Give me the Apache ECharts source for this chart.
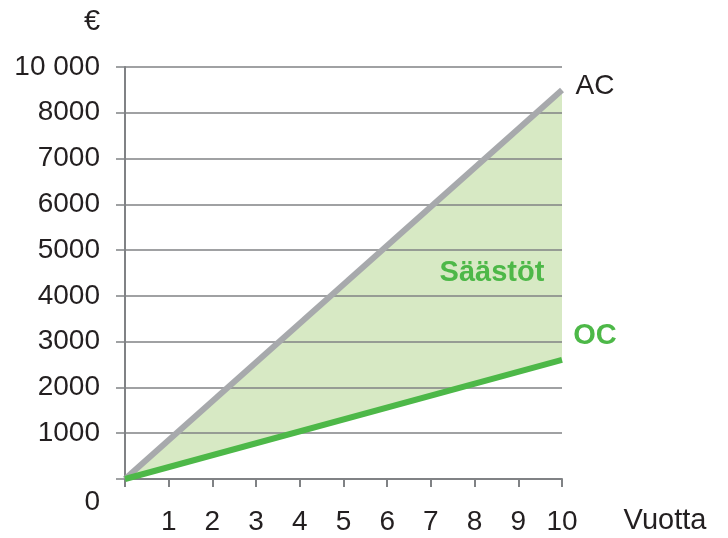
<!DOCTYPE html>
<html>
<head>
<meta charset="utf-8">
<script src="https://cdn.jsdelivr.net/npm/echarts@6/dist/echarts.min.js"></script>
<style>
html,body{margin:0;padding:0;background:#fff;}
#c{width:728px;height:538px;}
</style>
</head>
<body>
<div id="c"></div>
<script>
var years = [0, 10];
var acValues = [0, 8500];
var ocValues = [0, 2600];
var yTickValues = [0, 1000, 2000, 3000, 4000, 5000, 6000, 7000, 8000, 9000];
var yTickLabels = ['0', '1000', '2000', '3000', '4000', '5000', '6000', '7000', '8000', '10 000'];
var xTickLabels = ['', '1', '2', '3', '4', '5', '6', '7', '8', '9', '10'];

var FONT = '"Liberation Sans", Arial, sans-serif';
var TXT = '#231F20';
var GREEN = '#4DB848';
var GREY = '#A7A9AC';
var FILL = '#D7E9C4';

var ac = years.map(function (y, i) { return [y, acValues[i]]; });
var oc = years.map(function (y, i) { return [y, ocValues[i]]; });

var chart = echarts.init(document.getElementById('c'), null, {renderer: 'canvas'});
chart.setOption({
  animation: false,
  backgroundColor: '#fff',
  grid: {left: 125, right: 166, top: 67, bottom: 59, containLabel: false},
  xAxis: {
    type: 'value', min: 0, max: 10, interval: 1, z: 2,
    axisLine: {show: true, lineStyle: {color: '#808285', width: 2}},
    axisTick: {show: true, length: 8, lineStyle: {color: '#808285', width: 2}},
    splitLine: {show: false},
    axisLabel: {
      margin: 29, fontSize: 28, color: TXT, fontFamily: FONT,
      formatter: function (v) { return xTickLabels[Math.round(v)]; }
    }
  },
  yAxis: {
    type: 'value', min: 0, max: 9000, interval: 1000, z: 2,
    axisLine: {show: true, lineStyle: {color: '#808285', width: 2}},
    axisTick: {show: true, length: 9, lineStyle: {color: '#808285', width: 1.5}},
    splitLine: {show: true, lineStyle: {color: '#808285', width: 1.5}},
    axisLabel: {
      margin: 25, fontSize: 28, color: TXT, fontFamily: FONT,
      formatter: function (v) {
        var i = yTickValues.indexOf(v);
        var s = i >= 0 ? yTickLabels[i] : '';
        return v === 0 ? '{z|' + s + '}' : s;
      },
      rich: {z: {fontSize: 28, color: TXT, fontFamily: FONT, padding: [46, 0, 0, 0]}}
    }
  },
  series: [
    {
      type: 'custom', silent: true, z: 1,
      data: [[0, 0]],
      renderItem: function (params, api) {
        var pts = [];
        for (var i = 0; i < years.length; i++) pts.push(api.coord([years[i], acValues[i]]));
        for (var j = years.length - 1; j >= 0; j--) pts.push(api.coord([years[j], ocValues[j]]));
        return {type: 'polygon', shape: {points: pts}, style: {fill: FILL}};
      }
    },
    {type: 'line', data: ac, symbol: 'none', lineStyle: {color: GREY, width: 6}, z: 3},
    {type: 'line', data: oc, symbol: 'none', lineStyle: {color: GREEN, width: 6}, z: 4}
  ],
  graphic: [
    {type: 'text', z: 100, x: 92, y: 22, style: {text: '€', fontSize: 29, fill: TXT, fontFamily: FONT, align: 'center', verticalAlign: 'middle'}},
    {type: 'text', z: 100, x: 665, y: 521, style: {text: 'Vuotta', fontSize: 29, fill: TXT, fontFamily: FONT, align: 'center', verticalAlign: 'middle'}},
    {type: 'text', z: 100, x: 595, y: 86, style: {text: 'AC', fontSize: 28, fill: TXT, fontFamily: FONT, align: 'center', verticalAlign: 'middle'}},
    {type: 'text', z: 100, x: 492, y: 273, style: {text: 'Säästöt', fontSize: 29, fontWeight: 'bold', fill: GREEN, fontFamily: FONT, align: 'center', verticalAlign: 'middle'}},
    {type: 'text', z: 100, x: 595, y: 336, style: {text: 'OC', fontSize: 29, fontWeight: 'bold', fill: GREEN, fontFamily: FONT, align: 'center', verticalAlign: 'middle'}}
  ]
});
</script>
</body>
</html>
